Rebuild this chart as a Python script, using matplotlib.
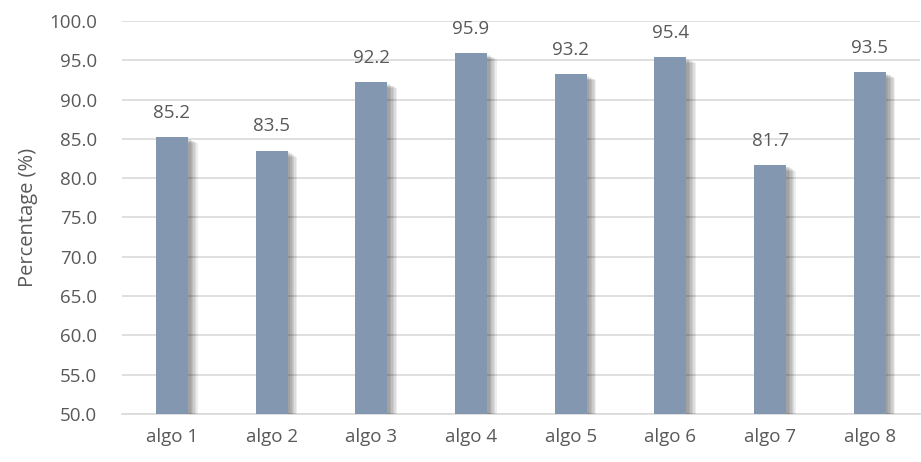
import matplotlib
matplotlib.use('Agg')
import matplotlib.pyplot as plt
import matplotlib.patheffects as pe
import numpy as np

algos = ['algo 1', 'algo 2', 'algo 3', 'algo 4', 'algo 5', 'algo 6', 'algo 7', 'algo 8']
values = [85.2, 83.5, 92.2, 95.9, 93.2, 95.4, 81.7, 93.5]
yticks = [50, 55, 60, 65, 70, 75, 80, 85, 90, 95, 100]

plt.rcParams['font.family'] = ['Open Sans', 'DejaVu Sans']
txt = '#595959'

fig = plt.figure(figsize=(9.21, 4.62), dpi=100)
ax = fig.add_axes([0.1325, 0.104, 0.866, 0.8505])

# faux flou pour l'ombre
shadow = [pe.SimplePatchShadow(offset=(d, -d * 0.6), shadow_rgbFace='#000000', alpha=0.07)
          for d in (7, 6, 5, 4, 3, 2)]
x = np.arange(len(algos))
bars = ax.bar(x, values, width=0.32, color='#8497B0', zorder=3,
              path_effects=shadow + [pe.Normal()])

for xi, v in zip(x, values):
    ax.annotate(f'{v:.1f}', (xi, v), xytext=(0, 11), textcoords='offset points',
                ha='center', va='bottom', fontsize=13.5, color=txt)

ax.set_xlim(-0.5, len(algos) - 0.5)
ax.set_ylim(50, 100)
ax.set_yticks(yticks)
ax.set_yticklabels([f'{t:.1f}' for t in yticks])
ax.set_xticks(x)
ax.set_xticklabels(algos)
ax.tick_params(axis='both', length=0, labelsize=13.5, labelcolor=txt, pad=10)
ax.tick_params(axis='y', pad=18)
ax.grid(axis='y', color='#D9D9D9', linewidth=1.2, zorder=0)
for s in ['top', 'right', 'left']:
    ax.spines[s].set_visible(False)
ax.spines['bottom'].set_color('#D9D9D9')
ax.spines['bottom'].set_linewidth(1.2)
ax.set_ylabel('Percentage (%)', fontsize=14.5, color=txt, labelpad=8)

fig.savefig('out.png', dpi=100)
